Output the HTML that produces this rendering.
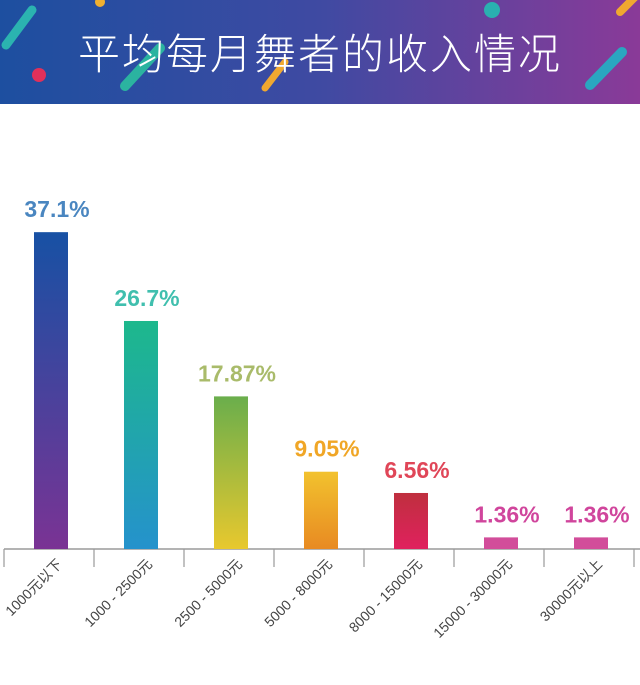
<!DOCTYPE html>
<html><head><meta charset="utf-8"><style>
html,body{margin:0;padding:0;background:#fff;}
body{width:640px;height:680px;overflow:hidden;font-family:"Liberation Sans","Noto Sans CJK SC",sans-serif;}
</style></head><body>
<svg id="chart" width="640" height="680" xmlns="http://www.w3.org/2000/svg">
<defs>
<linearGradient id="hdr" x1="0" x2="1" y1="0" y2="0"><stop offset="0" stop-color="#1d4fa0"/><stop offset="0.5" stop-color="#3f4aa2"/><stop offset="1" stop-color="#8a3a98"/></linearGradient>
<linearGradient id="g0" x1="0" x2="0" y1="0" y2="1"><stop offset="0" stop-color="#1751a4"/><stop offset="1" stop-color="#7a3394"/></linearGradient>
<linearGradient id="g1" x1="0" x2="0" y1="0" y2="1"><stop offset="0" stop-color="#1db88c"/><stop offset="1" stop-color="#2592cc"/></linearGradient>
<linearGradient id="g2" x1="0" x2="0" y1="0" y2="1"><stop offset="0" stop-color="#6aae4c"/><stop offset="1" stop-color="#e8c82e"/></linearGradient>
<linearGradient id="g3" x1="0" x2="0" y1="0" y2="1"><stop offset="0" stop-color="#f2c22e"/><stop offset="1" stop-color="#e88a22"/></linearGradient>
<linearGradient id="g4" x1="0" x2="0" y1="0" y2="1"><stop offset="0" stop-color="#bf2f3e"/><stop offset="1" stop-color="#e0215e"/></linearGradient>
<linearGradient id="g5" x1="0" x2="0" y1="0" y2="1"><stop offset="0" stop-color="#d24d9a"/><stop offset="1" stop-color="#d24d9a"/></linearGradient>
<linearGradient id="g6" x1="0" x2="0" y1="0" y2="1"><stop offset="0" stop-color="#d24d9a"/><stop offset="1" stop-color="#d24d9a"/></linearGradient>
</defs>
<g>
<rect x="0" y="0" width="640" height="104" fill="url(#hdr)"/>
<line x1="6" y1="45" x2="32" y2="10" stroke="#2bb3b0" stroke-width="9" stroke-linecap="round"/>
<circle cx="39" cy="75" r="7" fill="#e0305a"/>
<circle cx="100" cy="2" r="5" fill="#f0b030"/>
<line x1="125" y1="86" x2="160" y2="48" stroke="#2bb3a0" stroke-width="10" stroke-linecap="round"/>
<line x1="265" y1="88" x2="285" y2="62" stroke="#f0a830" stroke-width="7" stroke-linecap="round"/>
<circle cx="492" cy="10" r="8" fill="#2ab0b0"/>
<line x1="590" y1="85" x2="622" y2="52" stroke="#2aa6c0" stroke-width="10" stroke-linecap="round"/>
<line x1="620" y1="12" x2="636" y2="-4" stroke="#f0a830" stroke-width="8" stroke-linecap="round"/>
<text x="320" y="69" text-anchor="middle" fill="#fff" font-size="42" font-weight="300" font-family="'Noto Sans CJK SC','WenQuanYi Zen Hei',sans-serif" letter-spacing="2">平均每月舞者的收入情况</text>
</g>
<g id="plot"></g>
</svg>
<script>
const categories = ["1000元以下","1000 - 2500元","2500 - 5000元","5000 - 8000元","8000 - 15000元","15000 - 30000元","30000元以上"];
const values = [37.1, 26.7, 17.87, 9.05, 6.56, 1.36, 1.36];
const valueLabels = ["37.1%","26.7%","17.87%","9.05%","6.56%","1.36%","1.36%"];
const labelColors = ["#4a86c0","#40bfae","#a9bb6a","#f0a626","#e04658","#d0459c","#d0459c"];

const NS="http://www.w3.org/2000/svg";
const plot=document.getElementById('plot');
const baseY=549, pxPer=8.54, x0=4, step=90, barW=34;
function yScale(v){return baseY - v*pxPer;}
function xCenter(i){return x0 + step*i + step/2 + 2;}
function mk(tag,attrs){const e=document.createElementNS(NS,tag);for(const k in attrs)e.setAttribute(k,attrs[k]);plot.appendChild(e);return e;}

const axis=mk('line',{x1:4,y1:baseY,x2:640,y2:baseY,stroke:'#9a9a9a','stroke-width':1.5});


for(let i=0;i<=7;i++){
  const tx=x0+step*i;
  const t=mk('line',{x1:tx,y1:baseY,x2:tx,y2:baseY+18,stroke:'#9a9a9a','stroke-width':1.2});
  
  
}
values.forEach((v,i)=>{
  const cx=xCenter(i), top=yScale(v);
  const b=mk('rect',{x:cx-barW/2,y:top,width:barW,height:baseY-top,fill:'url(#g'+i+')'});
  
  
  const t=mk('text',{x:cx+6,y:top-15,'text-anchor':'middle',fill:labelColors[i],'font-size':23,'font-weight':'bold','font-family':'Liberation Sans,sans-serif'});
  t.textContent=valueLabels[i];
  
  
  const lx=cx+12, ly=baseY+16;
  const c=mk('text',{x:lx,y:ly,'text-anchor':'end',fill:'#444','font-size':14,transform:'rotate(-45 '+lx+' '+ly+')','font-family':"Liberation Sans,'Noto Sans CJK SC',sans-serif"});
  c.textContent=categories[i];
  
  
});
</script>
</body></html>
